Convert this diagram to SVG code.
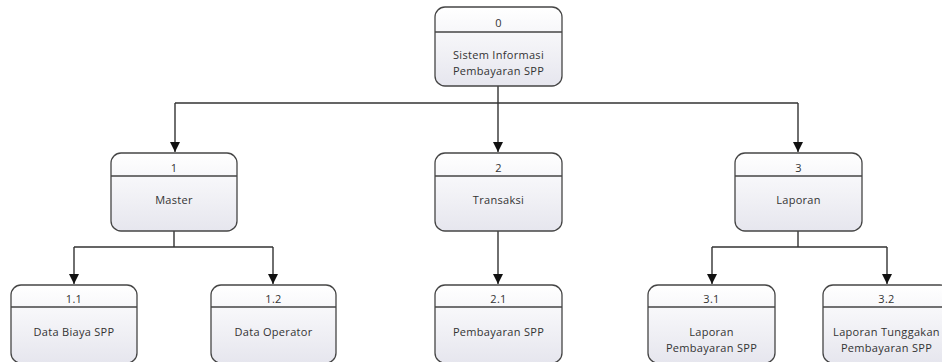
<svg xmlns="http://www.w3.org/2000/svg" width="942" height="362" viewBox="0 0 942 362">
  <style>
    .box { fill: url(#procFill); stroke: #454545; stroke-width: 1.3; }
    .div { stroke: #454545; stroke-width: 1.3; }
    .lbl { font-family: "Open Sans", "Noto Sans", "DejaVu Sans", sans-serif; font-size: 11px; letter-spacing: 0.3px; fill: #333; text-anchor: middle; }
    .edge { fill: none; stroke: #333; stroke-width: 1.4; }
  </style>
  <defs>
    <linearGradient id="procFill" x1="0" y1="0" x2="0" y2="1">
      <stop offset="0" stop-color="#ffffff"/>
      <stop offset="1" stop-color="#e6e6ee"/>
    </linearGradient>
    <marker id="arrow" viewBox="0 0 10 10" refX="10" refY="5" markerWidth="10" markerHeight="10" markerUnits="userSpaceOnUse" orient="auto">
      <path d="M0,0 L10,5 L0,10 Z" fill="#111"/>
    </marker>
  </defs>
  <rect width="942" height="362" fill="#fff"/>

  <g id="connectors">
    <path class="edge" d="M498,86 V103 M175,103 H798"/>
    <path class="edge" d="M175,103 V152" marker-end="url(#arrow)"/>
    <path class="edge" d="M498,103 V152" marker-end="url(#arrow)"/>
    <path class="edge" d="M798,103 V152" marker-end="url(#arrow)"/>
    <path class="edge" d="M174,231 V247 M74,247 H273"/>
    <path class="edge" d="M74,247 V284" marker-end="url(#arrow)"/>
    <path class="edge" d="M273,247 V284" marker-end="url(#arrow)"/>
    <path class="edge" d="M498,231 V284" marker-end="url(#arrow)"/>
    <path class="edge" d="M798,231 V247 M712,247 H887"/>
    <path class="edge" d="M712,247 V284" marker-end="url(#arrow)"/>
    <path class="edge" d="M887,247 V284" marker-end="url(#arrow)"/>
  </g>

  <g id="node-0">
    <rect class="box" x="435" y="7" width="127" height="79" rx="10"/>
    <line class="div" x1="435" y1="32" x2="562" y2="32"/>
    <text class="lbl" x="498.5" y="27">0</text>
    <text class="lbl" x="498.5" y="59">Sistem Informasi</text>
    <text class="lbl" x="498.5" y="75">Pembayaran SPP</text>
  </g>

  <g id="node-1">
    <rect class="box" x="111" y="153" width="126" height="78" rx="10"/>
    <line class="div" x1="111" y1="176" x2="237" y2="176"/>
    <text class="lbl" x="174" y="172">1</text>
    <text class="lbl" x="174" y="204">Master</text>
  </g>

  <g id="node-2">
    <rect class="box" x="435" y="153" width="127" height="78" rx="10"/>
    <line class="div" x1="435" y1="176" x2="562" y2="176"/>
    <text class="lbl" x="498.5" y="172">2</text>
    <text class="lbl" x="498.5" y="204">Transaksi</text>
  </g>

  <g id="node-3">
    <rect class="box" x="735" y="153" width="127" height="78" rx="10"/>
    <line class="div" x1="735" y1="176" x2="862" y2="176"/>
    <text class="lbl" x="798.5" y="172">3</text>
    <text class="lbl" x="798.5" y="204">Laporan</text>
  </g>

  <g id="node-1-1">
    <rect class="box" x="11" y="285" width="126" height="78" rx="10"/>
    <line class="div" x1="11" y1="307" x2="137" y2="307"/>
    <text class="lbl" x="74" y="303">1.1</text>
    <text class="lbl" x="74" y="336">Data Biaya SPP</text>
  </g>

  <g id="node-1-2">
    <rect class="box" x="211" y="285" width="125" height="78" rx="10"/>
    <line class="div" x1="211" y1="307" x2="336" y2="307"/>
    <text class="lbl" x="273.5" y="303">1.2</text>
    <text class="lbl" x="273.5" y="336">Data Operator</text>
  </g>

  <g id="node-2-1">
    <rect class="box" x="435" y="285" width="127" height="78" rx="10"/>
    <line class="div" x1="435" y1="307" x2="562" y2="307"/>
    <text class="lbl" x="498.5" y="303">2.1</text>
    <text class="lbl" x="498.5" y="336">Pembayaran SPP</text>
  </g>

  <g id="node-3-1">
    <rect class="box" x="648" y="285" width="127" height="78" rx="10"/>
    <line class="div" x1="648" y1="307" x2="775" y2="307"/>
    <text class="lbl" x="711.5" y="303">3.1</text>
    <text class="lbl" x="711.5" y="336">Laporan</text>
    <text class="lbl" x="711.5" y="352">Pembayaran SPP</text>
  </g>

  <g id="node-3-2">
    <rect class="box" x="823" y="285" width="127" height="78" rx="10"/>
    <line class="div" x1="823" y1="307" x2="950" y2="307"/>
    <text class="lbl" x="886.5" y="303">3.2</text>
    <text class="lbl" x="886.5" y="336">Laporan Tunggakan</text>
    <text class="lbl" x="886.5" y="352">Pembayaran SPP</text>
  </g>
</svg>
